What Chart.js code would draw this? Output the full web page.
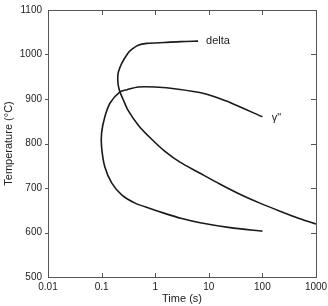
<!DOCTYPE html>
<html>
<head>
    <title>TTT diagram</title>
    <script src="https://cdn.jsdelivr.net/npm/chart.js"></script>
    <style>
        body { margin: 0; background: #fff; }
    </style>
</head>
<body>
    <canvas id="tttChart" width="328" height="306"></canvas>

    <script>
        // curves (time in s, temperature in °C)
        const deltaTime = [6.3, 3, 1.5, 0.7, 0.48, 0.37, 0.31, 0.24, 0.205, 0.2, 0.205, 0.22, 0.25, 0.31, 0.5, 0.87, 1.5, 2.9, 6.9, 16, 38, 90, 213, 500, 1000];
        const deltaTemp = [1030, 1029, 1027, 1025, 1021, 1012, 1003, 981, 960, 945, 930, 916, 900, 875, 839, 809, 783, 758, 733, 709, 686, 666, 648, 631, 619];

        const gammaTime = [100, 26, 15, 8.5, 2.7, 1, 0.48, 0.3, 0.22, 0.144, 0.115, 0.1, 0.1, 0.115, 0.155, 0.24, 0.42, 0.8, 1.5, 3, 6.9, 25, 100];
        const gammaTemp = [860, 891, 902, 912, 922, 927, 927, 921, 916, 891, 860, 824, 792, 747, 711, 684, 666, 654, 643, 632, 622, 611, 603];

        const xTickValues = [0.01, 0.1, 1, 10, 100, 1000];
        const yTickValues = [500, 600, 700, 800, 900, 1000, 1100];

        const curveLabels = [
            { text: 'delta', time: 8.9, temp: 1030 },
            { text: 'γ"', time: 150, temp: 858 }
        ];

        const toPoints = (xs, ys) => xs.map((x, i) => ({ x: x, y: ys[i] }));

        const font = "'Liberation Sans', Arial, sans-serif";
        const axisColor = '#555';

        // box round the plot with inward ticks, plus the curve labels
        const framePlugin = {
            id: 'frame',
            afterDatasetsDraw(chart) {
                const ctx = chart.ctx;
                const a = chart.chartArea;
                const x = chart.scales.x;
                const y = chart.scales.y;
                ctx.save();
                ctx.strokeStyle = axisColor;
                ctx.lineWidth = 1;
                ctx.strokeRect(Math.round(a.left) + 0.5, Math.round(a.top) + 0.5,
                    Math.round(a.right - a.left), Math.round(a.bottom - a.top));
                ctx.beginPath();
                xTickValues.slice(1, -1).forEach(v => {
                    const px = Math.round(x.getPixelForValue(v)) + 0.5;
                    ctx.moveTo(px, a.bottom);
                    ctx.lineTo(px, a.bottom - 4);
                    ctx.moveTo(px, a.top);
                    ctx.lineTo(px, a.top + 5);
                });
                yTickValues.slice(1, -1).forEach(v => {
                    const py = Math.round(y.getPixelForValue(v)) + 0.5;
                    ctx.moveTo(a.left, py);
                    ctx.lineTo(a.left - 3, py);
                    ctx.moveTo(a.right, py);
                    ctx.lineTo(a.right - 5, py);
                });
                ctx.stroke();

                ctx.fillStyle = '#222';
                ctx.font = '11px ' + font;
                ctx.textAlign = 'left';
                ctx.textBaseline = 'middle';
                curveLabels.forEach(l => {
                    ctx.fillText(l.text, x.getPixelForValue(l.time), y.getPixelForValue(l.temp));
                });
                ctx.restore();
            }
        };

        const lineStyle = {
            showLine: true,
            borderColor: '#1a1a1a',
            borderWidth: 1.6,
            pointRadius: 0,
            tension: 0.25,
            fill: false
        };

        new Chart(document.getElementById('tttChart'), {
            type: 'scatter',
            data: {
                datasets: [
                    Object.assign({ label: 'delta', data: toPoints(deltaTime, deltaTemp) }, lineStyle),
                    Object.assign({ label: 'gamma"', data: toPoints(gammaTime, gammaTemp) }, lineStyle)
                ]
            },
            options: {
                responsive: false,
                animation: false,
                layout: { padding: { top: 10, right: 12, left: 0, bottom: 0 } },
                plugins: {
                    legend: { display: false },
                    tooltip: { enabled: false }
                },
                scales: {
                    x: {
                        type: 'logarithmic',
                        min: 0.01,
                        max: 1000,
                        afterBuildTicks: s => { s.ticks = xTickValues.map(v => ({ value: v })); },
                        afterFit: s => { s.height = 29; s.paddingLeft = 0; s.paddingRight = 0; },
                        grid: { display: false, drawTicks: false },
                        border: { display: false },
                        ticks: {
                            padding: 4,
                            color: '#222',
                            font: { family: font, size: 10 },
                            maxRotation: 0,
                            autoSkip: false,
                            callback: v => String(v)
                        },
                        title: {
                            display: true,
                            text: 'Time (s)',
                            color: '#222',
                            padding: 0,
                            font: { family: font, size: 11 }
                        }
                    },
                    y: {
                        min: 500,
                        max: 1100,
                        afterBuildTicks: s => { s.ticks = yTickValues.map(v => ({ value: v })); },
                        afterFit: s => { s.width = 48; s.paddingTop = 0; s.paddingBottom = 0; },
                        grid: { display: false, drawTicks: false },
                        border: { display: false },
                        ticks: {
                            padding: 6,
                            color: '#222',
                            font: { family: font, size: 10 },
                            callback: v => String(v)
                        },
                        title: {
                            display: true,
                            text: 'Temperature (°C)',
                            color: '#222',
                            padding: { top: 2, bottom: 0 },
                            font: { family: font, size: 11 }
                        }
                    }
                }
            },
            plugins: [framePlugin]
        });
    </script>
</body>
</html>
